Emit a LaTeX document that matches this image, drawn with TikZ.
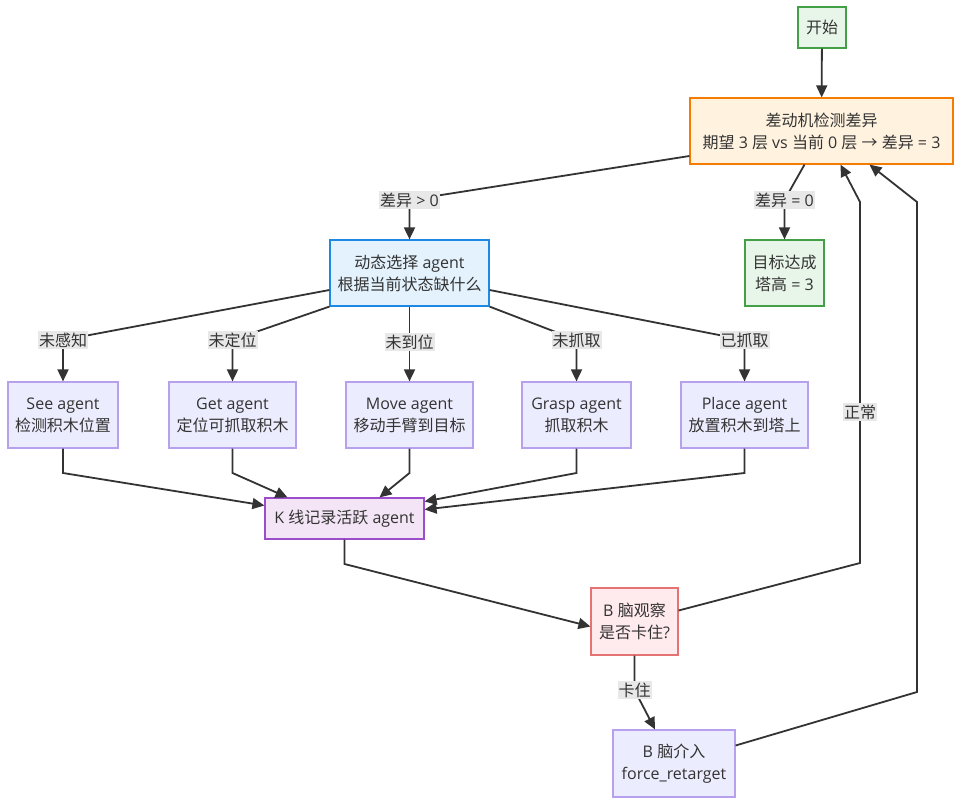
\documentclass[tikz,border=0pt]{standalone}
\usepackage{fontspec}
\setmainfont{Noto Sans CJK SC}
\newfontfamily\latf{Open Sans}
\newcommand\lat[1]{{\latf #1}}
\usetikzlibrary{arrows.meta}
\definecolor{txt}{HTML}{333333}
\definecolor{edgec}{HTML}{333333}
\definecolor{gfill}{HTML}{E8F5E9}\definecolor{gline}{HTML}{43A047}
\definecolor{ofill}{HTML}{FFF3E0}\definecolor{oline}{HTML}{F57C00}
\definecolor{bfill}{HTML}{E3F2FD}\definecolor{bline}{HTML}{1E88E5}
\definecolor{pfill}{HTML}{F3E5F5}\definecolor{pline}{HTML}{9C4DCC}
\definecolor{rfill}{HTML}{FFEBEE}\definecolor{rline}{HTML}{E57373}
\definecolor{afill}{HTML}{ECECFF}\definecolor{aline}{HTML}{B7A0EE}
\definecolor{lblfill}{HTML}{E8E8E8}
\tikzset{
  box/.style={draw, line width=1.2pt, inner sep=0pt, align=center, text=txt,
    font=\fontsize{16}{22}\selectfont},
  greenbox/.style={box, fill=gfill, draw=gline},
  orangebox/.style={box, fill=ofill, draw=oline},
  bluebox/.style={box, fill=bfill, draw=bline},
  purplebox/.style={box, fill=pfill, draw=pline},
  redbox/.style={box, fill=rfill, draw=rline},
  agentbox/.style={box, fill=afill, draw=aline},
  arr/.style={draw=edgec, line width=1.8pt, -{Triangle[length=12pt,width=11pt]}},
  lbl/.style={fill=lblfill, text=txt, inner xsep=1pt, inner ysep=2pt,
    font=\fontsize{16}{18}\selectfont}
}
\begin{document}
\begin{tikzpicture}[x=1pt,y=-1pt]
\useasboundingbox[fill=white] (0,0) rectangle (961,805);

\node[greenbox, minimum width=48, minimum height=41] (start) at (822,27.5) {开始};
\node[orangebox, minimum width=263, minimum height=66] (diff) at (821.5,131)
  {差动机检测差异\\期望\lat{ 3 }层\lat{ vs }当前\lat{ 0 }层\lat{ }→\lat{ }差异\lat{ = 3}};
\node[greenbox, minimum width=79, minimum height=66] (goal) at (784.5,273) {目标达成\\塔高\lat{ = 3}};
\node[bluebox, minimum width=159, minimum height=66] (select) at (409.5,273)
  {动态选择\lat{ agent}\\根据当前状态缺什么};
\node[agentbox, minimum width=110, minimum height=66] (see) at (63,415) {\lat{See agent}\\检测积木位置};
\node[agentbox, minimum width=127, minimum height=66] (get) at (232.5,415) {\lat{Get agent}\\定位可抓取积木};
\node[agentbox, minimum width=127, minimum height=66] (move) at (409.5,415) {\lat{Move agent}\\移动手臂到目标};
\node[agentbox, minimum width=109, minimum height=66] (grasp) at (576.5,415) {\lat{Grasp agent}\\抓取积木};
\node[agentbox, minimum width=127, minimum height=66] (place) at (744.5,415) {\lat{Place agent}\\放置积木到塔上};
\node[purplebox, minimum width=159, minimum height=41] (kline) at (344.5,518.5) {\lat{K }线记录活跃\lat{ agent}};
\node[redbox, minimum width=87, minimum height=67] (bobs) at (634.5,621.5) {\lat{B }脑观察\\是否卡住\lat{?}};
\node[agentbox, minimum width=122, minimum height=67] (bint) at (674,763.5) {\lat{B }脑介入\\\lat{force\_retarget}};

% edges
\draw[arr] (start) -- (diff);
\draw[arr] ([yshift=-25pt]diff.west) -- (409.5,200) node[lbl] {差异\lat{ > 0}} -- (select.north);
\draw[arr] ([xshift=-17pt]diff.south) -- (784.5,200) node[lbl] {差异\lat{ = 0}} -- (goal.north);

\draw[arr] ([yshift=-17pt]select.west) -- (63,340) node[lbl] {未感知} -- (see.north);
\draw[arr] (select.south west) -- (232.5,340) node[lbl] {未定位} -- (get.north);
\draw[arr] (select.south) -- (409.5,342) node[lbl] {未到位} -- (move.north);
\draw[arr] (select.south east) -- (576.5,340) node[lbl] {未抓取} -- (grasp.north);
\draw[arr] ([yshift=-17pt]select.east) -- (744.5,340) node[lbl] {已抓取} -- (place.north);

\draw[arr] (see.south) -- (63,473) -- ([yshift=13pt]kline.west);
\draw[arr] (get.south) -- (232.5,473) -- ([xshift=-57pt]kline.north);
\draw[arr] (move.south) -- (409.5,473) -- ([xshift=35pt]kline.north);
\draw[arr] (grasp.south) -- (576.5,473) -- ([yshift=17pt]kline.east);
\draw[arr] (place.south) -- (744.5,473) -- ([yshift=9pt]kline.east);

\draw[arr] (kline.south) -- (344.5,564) -- ([yshift=-5pt]bobs.west);
\draw[arr] ([yshift=11pt]bobs.east) -- (860,563) -- (860,412) node[lbl] {正常} -- (860,202) -- ([xshift=19pt]diff.south);
\draw[arr] (bobs.south) -- (634.5,690) node[lbl] {卡住} -- ([xshift=-19pt]bint.north);
\draw[arr] ([yshift=18pt]bint.east) -- (917,692) -- (917,202) -- ([xshift=48pt]diff.south);
\end{tikzpicture}
\end{document}
